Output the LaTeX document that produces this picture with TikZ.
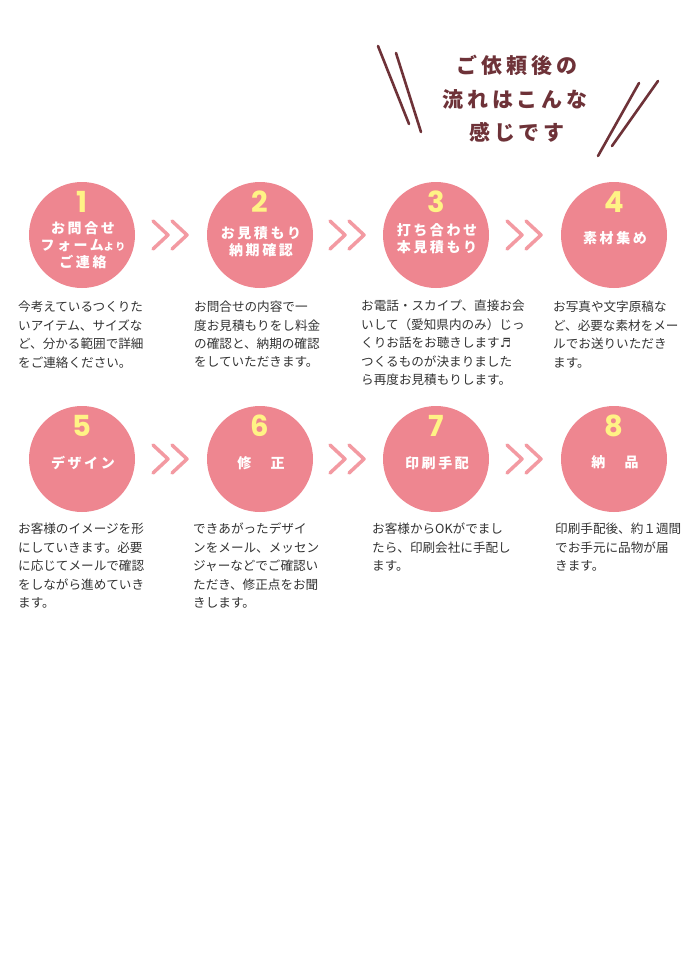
\documentclass[tikz,border=0pt]{standalone}
\usepackage{fontspec}
\setmainfont{Noto Sans CJK JP}
\newfontfamily\numfont{Poppins}
\newfontfamily\symfont{DejaVu Sans}
\usetikzlibrary{calc}
\definecolor{circpink}{HTML}{EE8690}
\definecolor{arrpink}{HTML}{F39AA2}
\definecolor{numyellow}{HTML}{FFF385}
\definecolor{titlered}{HTML}{6E3238}
\definecolor{bodytext}{HTML}{333333}
\begin{document}
\begin{tikzpicture}[x=1pt, y=-1pt,
  flowcircle/.style={circle, fill=circpink, minimum size=106pt, inner sep=0pt},
  flownum/.style={text=numyellow, inner sep=0pt, font=\numfont\bfseries\fontsize{29}{29}\selectfont},
  flowlabel/.style={text=white, align=center, inner sep=0pt, font=\bfseries\fontsize{14}{17}\selectfont\addfontfeature{LetterSpace=18}},
  flowtext/.style={anchor=north west, inner sep=0pt, align=left, text=bodytext, font=\fontsize{12.6}{18.4}\selectfont},
  titletext/.style={text=titlered, inner sep=0pt, font=\bfseries\fontsize{21}{21}\selectfont\addfontfeature{LetterSpace=18}},
  slash/.style={titlered, line width=2.6pt, line cap=round},
  chevrons/.pic={
    \draw[arrpink, line width=3.5pt, line cap=round, line join=round]
      (-18,-14) -- (-3,0) -- (-18,14);
    \draw[arrpink, line width=3.5pt, line cap=round, line join=round]
      (1,-14) -- (16,0) -- (1,14);
  }]
\useasboundingbox[fill=white] (0,0) rectangle (700,980);

% title
\node[titletext] (t1) at (517,65) {ご依頼後の};
\node[titletext] (t2) at (515,99) {流れはこんな};
\node[titletext] (t3) at (517,132) {感じです};
\draw[slash] (378,46) -- (409,124);
\draw[slash] (396,53) -- (421,132);
\draw[slash] (639,83) -- (598,156);
\draw[slash] (658,81) -- (612,146);

% first row
\node[flowcircle] (c1) at (82,235) {};
\node[flowcircle] (c2) at (260,235) {};
\node[flowcircle] (c3) at (436,235) {};
\node[flowcircle] (c4) at (614,235) {};
\node[flownum] (n1) at ($(c1)+(0,-33)$) {1};
\node[flownum] (n2) at ($(c2)+(0,-33)$) {2};
\node[flownum] (n3) at ($(c3)+(0,-33)$) {3};
\node[flownum] (n4) at ($(c4)+(0,-33)$) {4};
\node[flowlabel] (l1) at ($(c1)+(1,10)$) {お問合せ\\フォーム{\fontsize{10}{10}\selectfont より}\\ご連絡};
\node[flowlabel] (l2) at ($(c2)+(1,7)$) {お見積もり\\納期確認};
\node[flowlabel] (l3) at ($(c3)+(1,4)$) {打ち合わせ\\本見積もり};
\node[flowlabel] (l4) at ($(c4)+(1,3)$) {素材集め};
\pic at ($(c1)!0.5!(c2)$) {chevrons};
\pic at ($(c2)!0.5!(c3)$) {chevrons};
\pic at ($(c3)!0.5!(c4)$) {chevrons};

\node[flowtext] (d1) at (18,301) {今考えているつくりた\\いアイテム、サイズな\\ど、分かる範囲で詳細\\をご連絡ください。};
\node[flowtext] (d2) at (194,301) {お問合せの内容で一\\度お見積もりをし料金\\の確認と、納期の確認\\をしていただきます。};
\node[flowtext] (d3) at (361,300) {お電話・スカイプ、直接お会\\いして（愛知県内のみ）じっ\\くりお話をお聴きします{\symfont ♬}\\つくるものが決まりました\\ら再度お見積もりします。};
\node[flowtext] (d4) at (553,301) {お写真や文字原稿な\\ど、必要な素材をメー\\ルでお送りいただき\\ます。};

% second row
\node[flowcircle] (c5) at (82,459) {};
\node[flowcircle] (c6) at (260,459) {};
\node[flowcircle] (c7) at (436,459) {};
\node[flowcircle] (c8) at (614,459) {};
\node[flownum] (n5) at ($(c5)+(0,-33)$) {5};
\node[flownum] (n6) at ($(c6)+(0,-33)$) {6};
\node[flownum] (n7) at ($(c7)+(0,-33)$) {7};
\node[flownum] (n8) at ($(c8)+(0,-33)$) {8};
\node[flowlabel] (l5) at ($(c5)+(1,4)$) {デザイン};
\node[flowlabel] (l6) at ($(c6)+(1,4)$) {修　正};
\node[flowlabel] (l7) at ($(c7)+(1,4)$) {印刷手配};
\node[flowlabel] (l8) at ($(c8)+(1,3)$) {納　品};
\pic at ($(c5)!0.5!(c6)$) {chevrons};
\pic at ($(c6)!0.5!(c7)$) {chevrons};
\pic at ($(c7)!0.5!(c8)$) {chevrons};

\node[flowtext] (d5) at (18,523) {お客様のイメージを形\\にしていきます。必要\\に応じてメールで確認\\をしながら進めていき\\ます。};
\node[flowtext] (d6) at (193,523) {できあがったデザイ\\ンをメール、メッセン\\ジャーなどでご確認い\\ただき、修正点をお聞\\きします。};
\node[flowtext] (d7) at (372,523) {お客様からOKがでまし\\たら、印刷会社に手配し\\ます。};
\node[flowtext] (d8) at (555,523) {印刷手配後、約１週間\\でお手元に品物が届\\きます。};
\end{tikzpicture}
\end{document}
